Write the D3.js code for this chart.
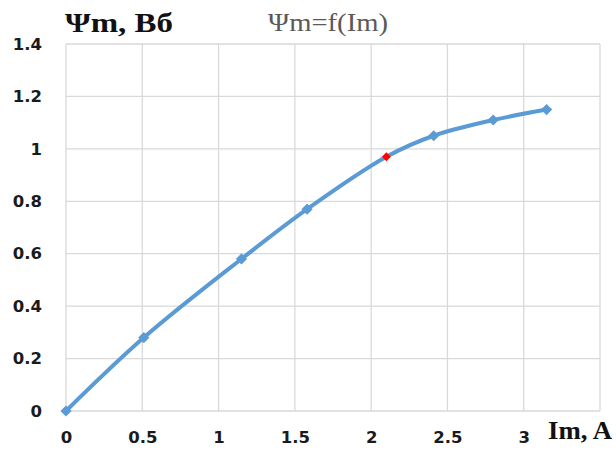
<!DOCTYPE html>
<html>
<head>
<meta charset="utf-8">
<script src="https://cdn.jsdelivr.net/npm/d3@7"></script>
<style>
  html, body { margin: 0; padding: 0; background: #fff; }
  svg { display: block; }
</style>
</head>
<body>
<svg id="chart" width="616" height="450"></svg>
<script>
// Magnetization curve: flux linkage vs magnetizing current
const currentIm = [0, 0.51, 1.15, 1.58, 2.1, 2.41, 2.8, 3.15];
const fluxPsi   = [0, 0.28, 0.58, 0.77, 0.97, 1.05, 1.11, 1.15];
const highlightIndex = 4; // operating point shown in red
const xTicks = [0, 0.5, 1, 1.5, 2, 2.5, 3];
const yTicks = [0, 0.2, 0.4, 0.6, 0.8, 1, 1.2, 1.4];

const svg = d3.select("#chart");
const plot = { left: 66, right: 600, top: 44, bottom: 411 };

const x = d3.scaleLinear().domain([0, 3.5]).range([plot.left, plot.right]);
const y = d3.scaleLinear().domain([0, 1.4]).range([plot.bottom, plot.top]);

const gridColor = "#d9d9d9";

// vertical grid lines
svg.append("g").selectAll("line")
  .data(d3.range(0, 3.51, 0.5))
  .join("line")
  .attr("x1", d => x(d)).attr("x2", d => x(d))
  .attr("y1", plot.top).attr("y2", plot.bottom)
  .attr("stroke", gridColor).attr("stroke-width", 1.3);

// horizontal grid lines
svg.append("g").selectAll("line")
  .data(yTicks)
  .join("line")
  .attr("x1", plot.left).attr("x2", plot.right)
  .attr("y1", d => y(d)).attr("y2", d => y(d))
  .attr("stroke", gridColor).attr("stroke-width", 1.3);

// y axis tick labels
const yAxis = d3.axisLeft(y).tickValues(yTicks).tickSize(0).tickPadding(24)
  .tickFormat(d => String(+d.toFixed(1)));
const gy = svg.append("g").attr("transform", `translate(${plot.left},0)`).call(yAxis);
gy.select(".domain").remove();
gy.selectAll("text")
  .attr("font-family", "DejaVu Sans, Verdana, sans-serif")
  .attr("font-weight", "bold").attr("font-size", 16.5).attr("fill", "#1a1a1a");

// x axis tick labels
const xAxis = d3.axisBottom(x).tickValues(xTicks).tickSize(0).tickPadding(20)
  .tickFormat(d => String(+d.toFixed(1)));
const gx = svg.append("g").attr("transform", `translate(0,${plot.bottom})`).call(xAxis);
gx.select(".domain").remove();
gx.selectAll("text")
  .attr("font-family", "DejaVu Sans, Verdana, sans-serif")
  .attr("font-weight", "bold").attr("font-size", 16.5).attr("fill", "#1a1a1a");

// curve
const pts = currentIm.map((v, i) => [v, fluxPsi[i]]);
const line = d3.line()
  .x(d => x(d[0])).y(d => y(d[1]))
  .curve(d3.curveCatmullRom.alpha(0.5));

svg.append("path")
  .datum(pts)
  .attr("d", line)
  .attr("fill", "none")
  .attr("stroke", "#5b9bd5")
  .attr("stroke-width", 4)
  .attr("stroke-linecap", "round");

// diamond markers
const diamond = d3.symbol().type(d3.symbolDiamond2).size(80);
const diamondSmall = d3.symbol().type(d3.symbolDiamond2).size(50);
svg.append("g").selectAll("path")
  .data(pts)
  .join("path")
  .attr("transform", d => `translate(${x(d[0])},${y(d[1])})`)
  .attr("d", (d, i) => i === highlightIndex ? diamondSmall() : diamond())
  .attr("fill", (d, i) => i === highlightIndex ? "#ff0000" : "#5b9bd5");

// axis titles
svg.append("text")
  .attr("x", 65).attr("y", 32)
  .attr("font-family", "Liberation Serif, Times New Roman, serif")
  .attr("font-weight", "bold").attr("font-size", 28).attr("fill", "#111")
  .attr("textLength", 108).attr("lengthAdjust", "spacingAndGlyphs")
  .text("Ψm, Вб");

svg.append("text")
  .attr("x", 268).attr("y", 31)
  .attr("font-family", "Liberation Serif, Times New Roman, serif")
  .attr("font-size", 25).attr("fill", "#595959")
  .attr("textLength", 120).attr("lengthAdjust", "spacingAndGlyphs")
  .text("Ψm=f(Im)");

svg.append("text")
  .attr("x", 548).attr("y", 439)
  .attr("font-family", "Liberation Serif, Times New Roman, serif")
  .attr("font-weight", "bold").attr("font-size", 26).attr("fill", "#111")
  .attr("textLength", 64).attr("lengthAdjust", "spacingAndGlyphs")
  .text("Im, A");
</script>
</body>
</html>
